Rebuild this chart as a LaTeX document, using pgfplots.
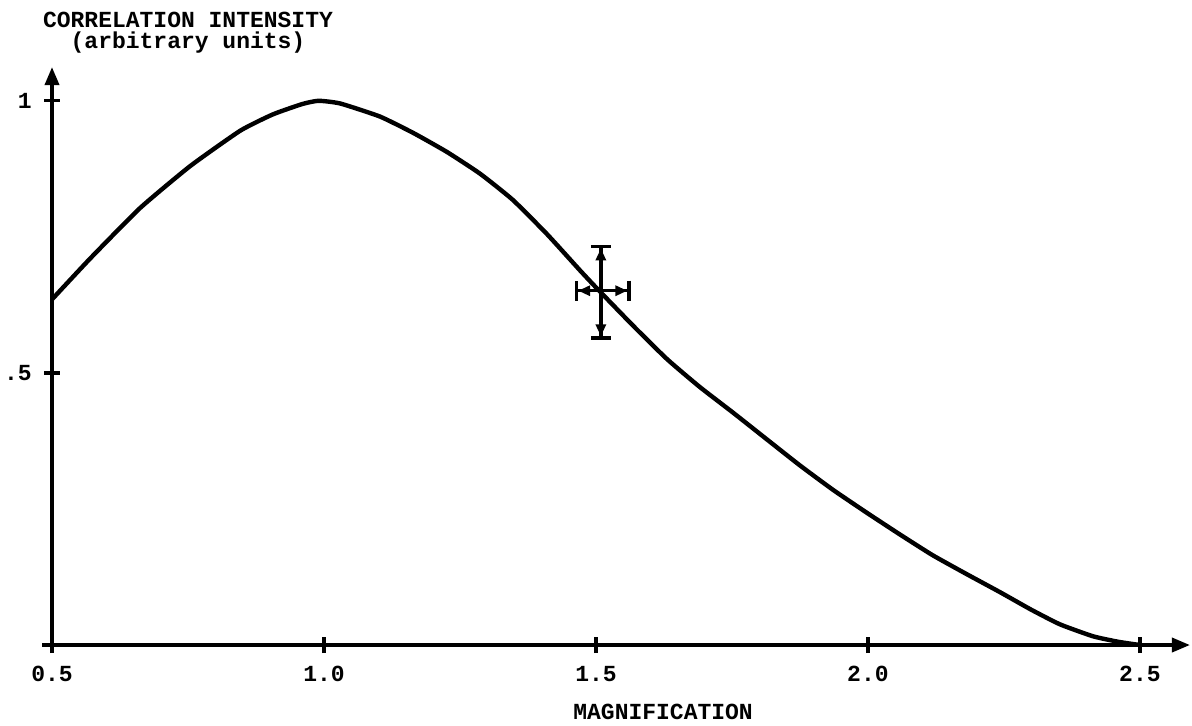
\documentclass[border=0pt]{standalone}
\usepackage{pgfplots}
\pgfplotsset{compat=1.18}
\usepackage{fontspec}
\setmainfont{Liberation Mono}
\usetikzlibrary{arrows.meta}
\newcommand{\tw}{\bfseries\fontsize{11.5}{10.5}\selectfont}
\begin{document}
\begin{tikzpicture}
\begin{axis}[
  scale only axis, width=569pt, height=289pt,
  xmin=0.5, xmax=2.592, ymin=0, ymax=1.062,
  clip=false,
  axis lines=left,
  axis line style={line width=1.8pt, -{Triangle[length=9pt,width=7pt]}},
  x axis line style={shorten <=-5pt},
  xtick={0.5,1,1.5,2,2.5}, xticklabels={0.5,1.0,1.5,2.0,2.5},
  ytick={0.5,1}, yticklabels={.5,1},
  tick align=center, major tick length=8pt,
  tick style={line width=1.6pt, black},
  every tick label/.append style={font=\tw},
  xticklabel style={inner sep=0pt, yshift=-6.5pt},
  yticklabel style={inner sep=0pt, xshift=-6pt},
  xlabel={MAGNIFICATION},
  xlabel style={at={(rel axis cs:0.537,-0.116)}, anchor=center, font=\tw, inner sep=0pt},
  ylabel={CORRELATION INTENSITY\\(arbitrary units)},
  ylabel style={rotate=-90, at={(rel axis cs:0.1195,1.059)}, anchor=center, align=center, font=\tw, inner sep=0pt},
]
% measured curve
\addplot[black, line width=2.2pt, smooth, tension=0.3] coordinates {
  (0.5,0.635) (0.57,0.710) (0.662,0.803) (0.754,0.880) (0.846,0.945)
  (0.906,0.975) (0.96,0.994) (0.99,1.0) (1.03,0.995) (1.103,0.971)
  (1.164,0.941) (1.226,0.906) (1.287,0.866) (1.347,0.818) (1.41,0.755)
  (1.471,0.688) (1.502,0.655) (1.57,0.585) (1.631,0.525) (1.691,0.474)
  (1.752,0.427) (1.814,0.378) (1.875,0.330) (1.936,0.285) (1.998,0.243)
  (2.059,0.203) (2.119,0.165) (2.182,0.130) (2.243,0.097) (2.30,0.065)
  (2.353,0.038) (2.414,0.016) (2.46,0.006) (2.50,0.0)};
% error cross
\addplot[black, line width=1.7pt,
  {Bar[width=10pt]Triangle[length=6pt,width=5pt]}-{Triangle[length=6pt,width=5pt]Bar[width=10pt]}]
  coordinates {(1.509,0.561) (1.509,0.735)};
\addplot[black, line width=1.7pt,
  {Bar[width=10pt]Triangle[length=6pt,width=5pt]}-{Triangle[length=6pt,width=5pt]Bar[width=10pt]}]
  coordinates {(1.461,0.651) (1.564,0.651)};
\coordinate (bl) at (rel axis cs:-0.0457,-0.140);
\coordinate (tr) at (rel axis cs:1.0018,1.116);
\end{axis}
\path (bl) rectangle (tr);
\end{tikzpicture}
\end{document}
